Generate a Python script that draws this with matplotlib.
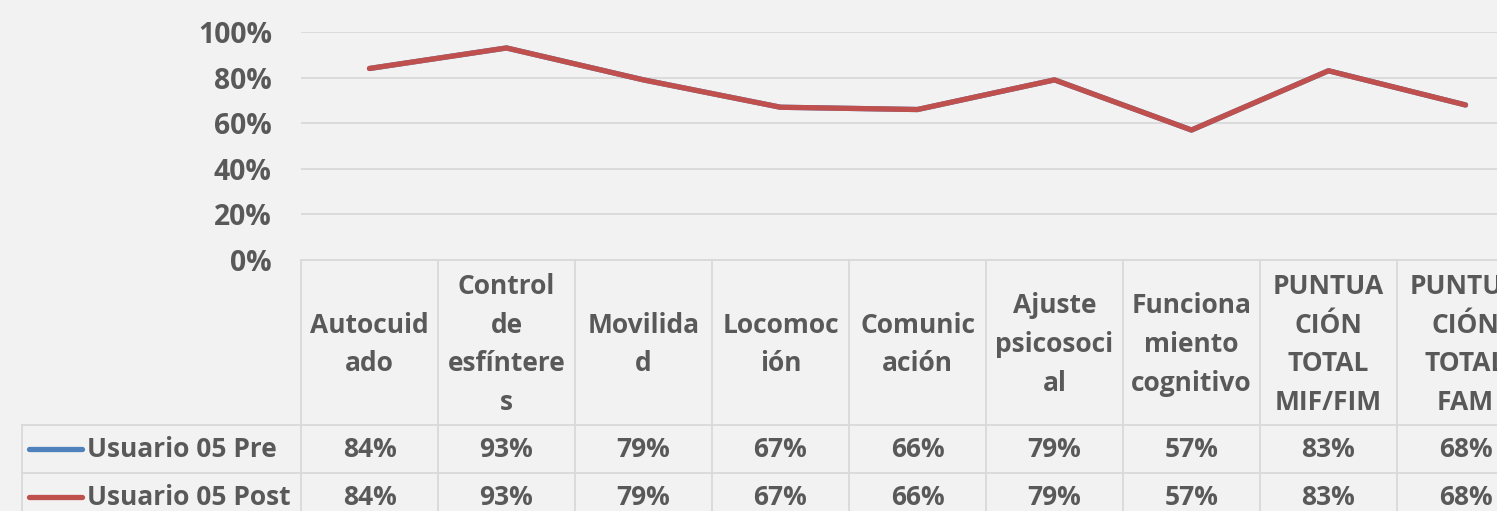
import numpy as np
import matplotlib
matplotlib.use("Agg")
import matplotlib.pyplot as plt
import matplotlib.transforms as mtransforms
from matplotlib.lines import Line2D

categories = ["Autocuid\nado", "Control\nde\nesfíntere\ns", "Movilida\nd",
              "Locomoc\nión", "Comunic\nación", "Ajuste\npsicosoci\nal",
              "Funciona\nmiento\ncognitivo", "PUNTUA\nCIÓN\nTOTAL\nMIF/FIM",
              "PUNTUA\nCIÓN\nTOTAL\nFAM"]
pre = [0.84, 0.93, 0.79, 0.67, 0.66, 0.79, 0.57, 0.83, 0.68]
post = [0.84, 0.93, 0.79, 0.67, 0.66, 0.79, 0.57, 0.83, 0.68]
series_names = ["Usuario 05 Pre", "Usuario 05 Post"]
yticks = [0, 0.2, 0.4, 0.6, 0.8, 1.0]

BG = "#f2f2f2"
TXT = "#595959"
GRID = "#d9d9d9"
BLUE = "#4f81bd"
RED = "#c0504d"
FONT = ["Open Sans", "DejaVu Sans"]
FS = 19

W, H = 1497, 511
fig = plt.figure(figsize=(W / 100, H / 100), dpi=100, facecolor=BG)
n = len(categories)
colw = 137
ax = fig.add_axes([301 / W, (H - 260) / H, n * colw / W, 228 / H])
ax.set_facecolor(BG)
ax.set_xlim(0, n)
ax.set_ylim(0, 1)
x = np.arange(n) + 0.5
ax.plot(x, pre, color=BLUE, lw=3.8, solid_capstyle="round", zorder=3)
ax.plot(x, post, color=RED, lw=3.8, solid_capstyle="round", zorder=4)
ax.set_yticks(yticks)
ax.set_yticklabels([f"{int(round(v * 100))}%" for v in yticks],
                   fontfamily=FONT, fontweight="bold", fontsize=20.3, color=TXT)
ax.set_xticks([])
ax.yaxis.grid(True, color=GRID, lw=1.3)
ax.tick_params(axis="y", length=0, pad=21)
for s in ax.spines.values():
    s.set_visible(False)

def fy(p):
    return (H - p) / H

def fx(p):
    return p / W

tr = mtransforms.blended_transform_factory(ax.transData, fig.transFigure)
lc = GRID
lw = 1.3
# vertical column borders
for i in range(n + 1):
    fig.add_artist(Line2D([i, i], [fy(260), fy(530)], transform=tr, color=lc, lw=lw))
# horizontal borders
fig.add_artist(Line2D([fx(301), 1.0], [fy(260), fy(260)], transform=fig.transFigure, color=lc, lw=lw))
for yp in [425, 473]:
    fig.add_artist(Line2D([fx(22), 1.0], [fy(yp), fy(yp)], transform=fig.transFigure, color=lc, lw=lw))
fig.add_artist(Line2D([fx(22), fx(22)], [fy(425), fy(530)], transform=fig.transFigure, color=lc, lw=lw))

# header text
for i, c in enumerate(categories):
    fig.text(i + 0.5, fy(344.5), c, transform=tr, ha="center", va="center",
             multialignment="center", fontfamily=FONT, fontweight="bold",
             fontsize=FS, color=TXT, linespacing=1.56)

# rows
rows = [pre, post]
colors = [BLUE, RED]
for r, (vals, name, col) in enumerate(zip(rows, series_names, colors)):
    yc = 449 + 48 * r
    fig.add_artist(Line2D([fx(29), fx(82)], [fy(yc), fy(yc)], transform=fig.transFigure,
                          color=col, lw=3.8, solid_capstyle="round"))
    fig.text(fx(87), fy(yc), name, ha="left", va="center", fontfamily=FONT,
             fontweight="bold", fontsize=FS, color=TXT)
    for i, v in enumerate(vals):
        fig.text(i + 0.5, fy(yc), f"{int(round(v * 100))}%", transform=tr,
                 ha="center", va="center", fontfamily=FONT, fontweight="bold",
                 fontsize=FS, color=TXT)

fig.savefig("out.png", dpi=100, facecolor=BG)
